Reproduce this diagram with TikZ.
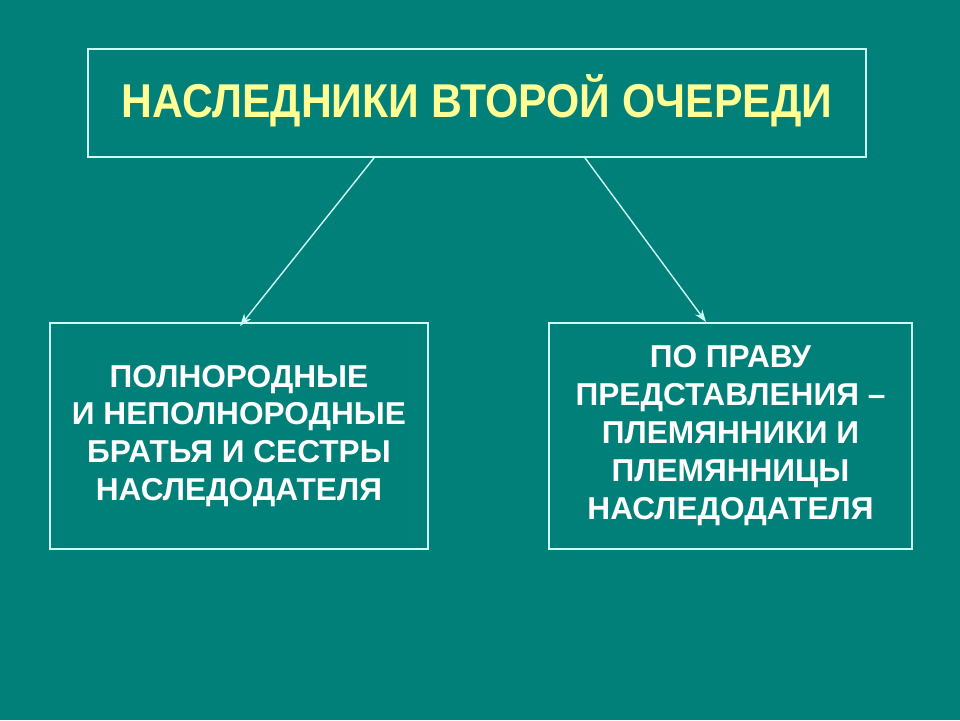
\documentclass[tikz,border=0pt]{standalone}
\usepackage{fontspec}
\setmainfont{Liberation Sans}
\newfontfamily\narrowfont[FakeStretch=0.9]{Liberation Sans}
\usetikzlibrary{arrows.meta,positioning,calc}
\definecolor{slidebg}{RGB}{0,128,120}
\definecolor{framecol}{RGB}{205,255,250}
\definecolor{titlecol}{RGB}{255,255,150}
\begin{document}
\begin{tikzpicture}[thin,
	box node/.style = {rectangle,draw=framecol,line width=1.1pt,inner sep=0pt,
		anchor=north west,align=center,text=white,
		font=\fontsize{18}{21.5}\selectfont\bfseries},
	link/.style = {draw=framecol,line width=0.8pt,-{Stealth[length=7pt,width=5pt]}}]
	
	\fill[slidebg] (0,0) rectangle (19.2,14.4);
	\useasboundingbox (0,0) rectangle (19.2,14.4);
	
	\node[box node,minimum width=15.56cm,minimum height=2.16cm,text=titlecol,
		font=\fontsize{27}{30}\selectfont\bfseries\narrowfont] at (1.74,13.44) (top)
		{\raisebox{0.26cm}{НАСЛЕДНИКИ ВТОРОЙ ОЧЕРЕДИ}};
	\node[box node,minimum width=7.56cm,minimum height=4.52cm] at (0.98,7.96) (left)
		{ПОЛНОРОДНЫЕ \\ И НЕПОЛНОРОДНЫЕ\\ БРАТЬЯ И СЕСТРЫ\\ НАСЛЕДОДАТЕЛЯ};
	\node[box node,minimum width=7.26cm,minimum height=4.52cm] at (10.96,7.96) (right)
		{\raisebox{0.08cm}{\begin{tabular}{@{}c@{}}ПО ПРАВУ\\ ПРЕДСТАВЛЕНИЯ –\\ ПЛЕМЯННИКИ И\\ ПЛЕМЯННИЦЫ\\ НАСЛЕДОДАТЕЛЯ\end{tabular}}};
	
	\coordinate (lstart) at ($(top.south west)+(5.74,0)$);
	\coordinate (rstart) at ($(top.south west)+(9.96,0)$);
	\coordinate (lend) at ($(left.north west)+(3.82,-0.08)$);
	\coordinate (rend) at ($(right.north west)+(3.16,0)$);
	
	\path
	(lstart) edge[link] (lend)
	(rstart) edge[link] (rend);
\end{tikzpicture}
\end{document}
